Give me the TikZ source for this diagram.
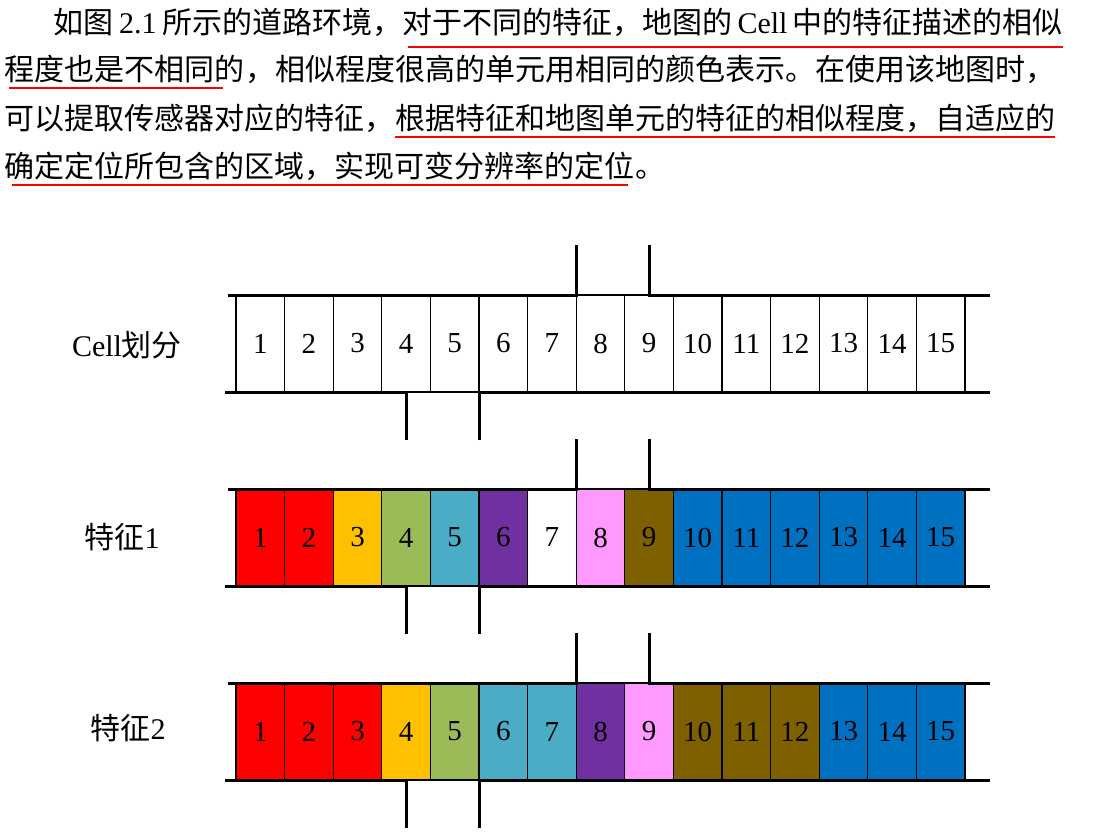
\documentclass[tikz,border=0pt]{standalone}
\usepackage{fontspec}
\setmainfont{Liberation Serif}
\newfontfamily\cjk{Noto Sans CJK SC}
\usepackage{tikz}
\usetikzlibrary{positioning,calc}

\definecolor{fred}{HTML}{FF0000}
\definecolor{fgold}{HTML}{FFC000}
\definecolor{fgreen}{HTML}{9BBB59}
\definecolor{faqua}{HTML}{4BACC6}
\definecolor{fpurple}{HTML}{7030A0}
\definecolor{fpink}{HTML}{FF99FF}
\definecolor{fbrown}{HTML}{7F6000}
\definecolor{fblue}{HTML}{0070C0}

\tikzset{
  cell/.style={rectangle, draw, line width=1.2pt, minimum width=48.6pt, minimum height=97pt,
    inner sep=0pt, outer sep=0pt, font=\fontsize{29}{29}\selectfont},
  road/.style={line width=3pt},
  rowlabel/.style={font=\fontsize{30}{30}\selectfont},
  para/.style={inner sep=0pt, outer sep=0pt, anchor=base west, font=\fontsize{30}{30}\selectfont\cjk},
  uline/.style={red, line width=2pt}
}

\begin{document}
\begin{tikzpicture}[x=1pt, y=-1pt]
        \useasboundingbox (0,0) rectangle (1098,840);

        % Paragraph
        \node (p1a) [para] at (53,34) {如图\hspace{6pt}{\rmfamily 2.1}\hspace{6pt}所示的道路环境，};
        \node (p1b) [para] at (p1a.base east) {对于不同的特征，地图的\hspace{5pt}{\rmfamily Cell}\hspace{5pt}中的特征描述的相似};
        \node (p2a) [para] at (5,81) {程度也是不相同的};
        \node (p2b) [para] at (p2a.base east) {，相似程度很高的单元用相同的颜色表示。在使用该地图时，};
        \node (p3a) [para] at (5,130) {可以提取传感器对应的特征，};
        \node (p3b) [para] at (p3a.base east) {根据特征和地图单元的特征的相似程度，自适应的};
        \node (p4a) [para] at (5,178) {确定定位所包含的区域，实现可变分辨率的定位};
        \node (p4b) [para] at (p4a.base east) {。};

        % Underlines
        \draw[uline] ([xshift=5pt,yshift=-13pt]p1b.base west) -- ([yshift=-13pt]p1b.base east);
        \draw[uline] ([xshift=4pt,yshift=-7pt]p2a.base west) -- ([xshift=-22pt,yshift=-7pt]p2a.base east);
        \draw[uline] ([yshift=-7pt]p3b.base west) -- ([yshift=-7pt]p3b.base east);
        \draw[uline] ([xshift=7pt,yshift=-7pt]p4a.base west) -- ([xshift=-7pt,yshift=-7pt]p4a.base east);

        % Row labels
        \node (lcell) [rowlabel] at (127,345) {Cell{\cjk 划分}};
        \node (lfeat1) [rowlabel] at (122,537) {{\cjk 特征}1};
        \node (lfeat2) [rowlabel] at (128,728) {{\cjk 特征}2};

        % Cells
        \foreach \i in {1,...,15}
            \node (a\i) [cell, fill=white] at ({236+48.6*(\i-0.5)}, 343.5) {\i};
        \foreach \c [count=\i] in {fred,fred,fgold,fgreen,faqua,fpurple,white,fpink,fbrown,fblue,fblue,fblue,fblue,fblue,fblue}
            \node (b\i) [cell, fill=\c] at ({236+48.6*(\i-0.5)}, 537.5) {\i};
        \foreach \c [count=\i] in {fred,fred,fred,fgold,fgreen,faqua,faqua,fpurple,fpink,fbrown,fbrown,fbrown,fblue,fblue,fblue}
            \node (c\i) [cell, fill=\c] at ({236+48.6*(\i-0.5)}, 731.5) {\i};

        % Road edges
        \foreach \row in {a,b,c} {
            \draw[road] ([xshift=-8pt]\row1.north west) -- (\row8.north west) -- ++(0pt,50pt);
            \draw[road] ([yshift=50pt]\row9.north) -- (\row9.north) -- ([xshift=25pt]\row15.north east);
            \draw[road] ([xshift=-11pt]\row1.south west) -- (\row4.south) -- ++(0pt,-48pt);
            \draw[road] ([yshift=-48pt]\row5.south east) -- (\row5.south east) -- ([xshift=25pt]\row15.south east);
        }
    \end{tikzpicture}
\end{document}
